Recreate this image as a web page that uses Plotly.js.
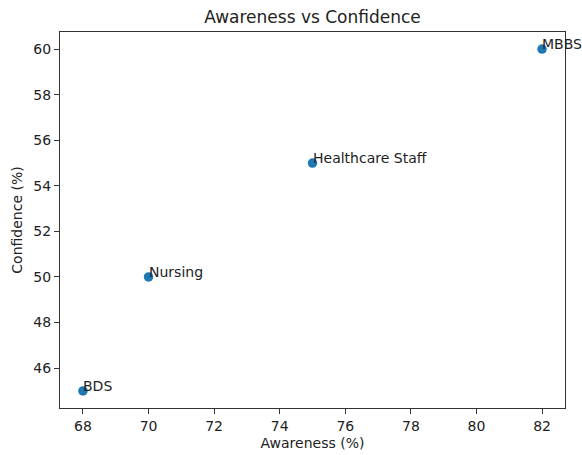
<!DOCTYPE html>
<html>
<head>
<meta charset="utf-8">
<script src="https://cdn.plot.ly/plotly-3.0.1.min.js"></script>
<style>html,body{margin:0;padding:0;background:#fff;}#chart{width:582px;height:455px;}</style>
</head>
<body>
<div id="chart"></div>
<script>
const groups = ["BDS", "Nursing", "Healthcare Staff", "MBBS"];
const awareness = [68, 70, 75, 82];
const confidence = [45, 50, 55, 60];
const xTicks = [68, 70, 72, 74, 76, 78, 80, 82];
const yTicks = [46, 48, 50, 52, 54, 56, 58, 60];

const font = {family: "DejaVu Sans", size: 14, color: "#222"};

const trace = {
  x: awareness, y: confidence, type: "scatter", mode: "markers",
  marker: {color: "#1f77b4", size: 9.5},
  hoverinfo: "skip"
};

const annotations = groups.map((g, i) => ({
  x: awareness[i], y: confidence[i], xref: "x", yref: "y",
  text: g, showarrow: false, xanchor: "left", yanchor: "bottom",
  xshift: -2, yshift: -5, font: font
}));

const axisCommon = {
  showgrid: false, zeroline: false, showline: true, mirror: true,
  linecolor: "#333", linewidth: 1, ticks: "outside", ticklen: 5,
  tickcolor: "#333", tickwidth: 1, tickfont: font
};

const layout = {
  width: 582, height: 455,
  margin: {l: 60, r: 17, t: 32, b: 47},
  paper_bgcolor: "#fff", plot_bgcolor: "#fff",
  showlegend: false,
  title: {text: "Awareness vs Confidence", font: {family: "DejaVu Sans", size: 17, color: "#222"}, xref: "paper", x: 0.5, xanchor: "center", yref: "container", y: 1 - 17/455, yanchor: "middle"},
  xaxis: Object.assign({}, axisCommon, {
    range: [67.3, 82.7], tickvals: xTicks, ticktext: xTicks.map(String),
    title: {text: "Awareness (%)", font: font, standoff: 5}
  }),
  yaxis: Object.assign({}, axisCommon, {
    range: [44.25, 60.75], tickvals: yTicks, ticktext: yTicks.map(String),
    title: {text: "Confidence (%)", font: font, standoff: 7}
  }),
  annotations: annotations
};

Plotly.newPlot("chart", [trace], layout, {staticPlot: true, displayModeBar: false});
</script>
</body>
</html>
